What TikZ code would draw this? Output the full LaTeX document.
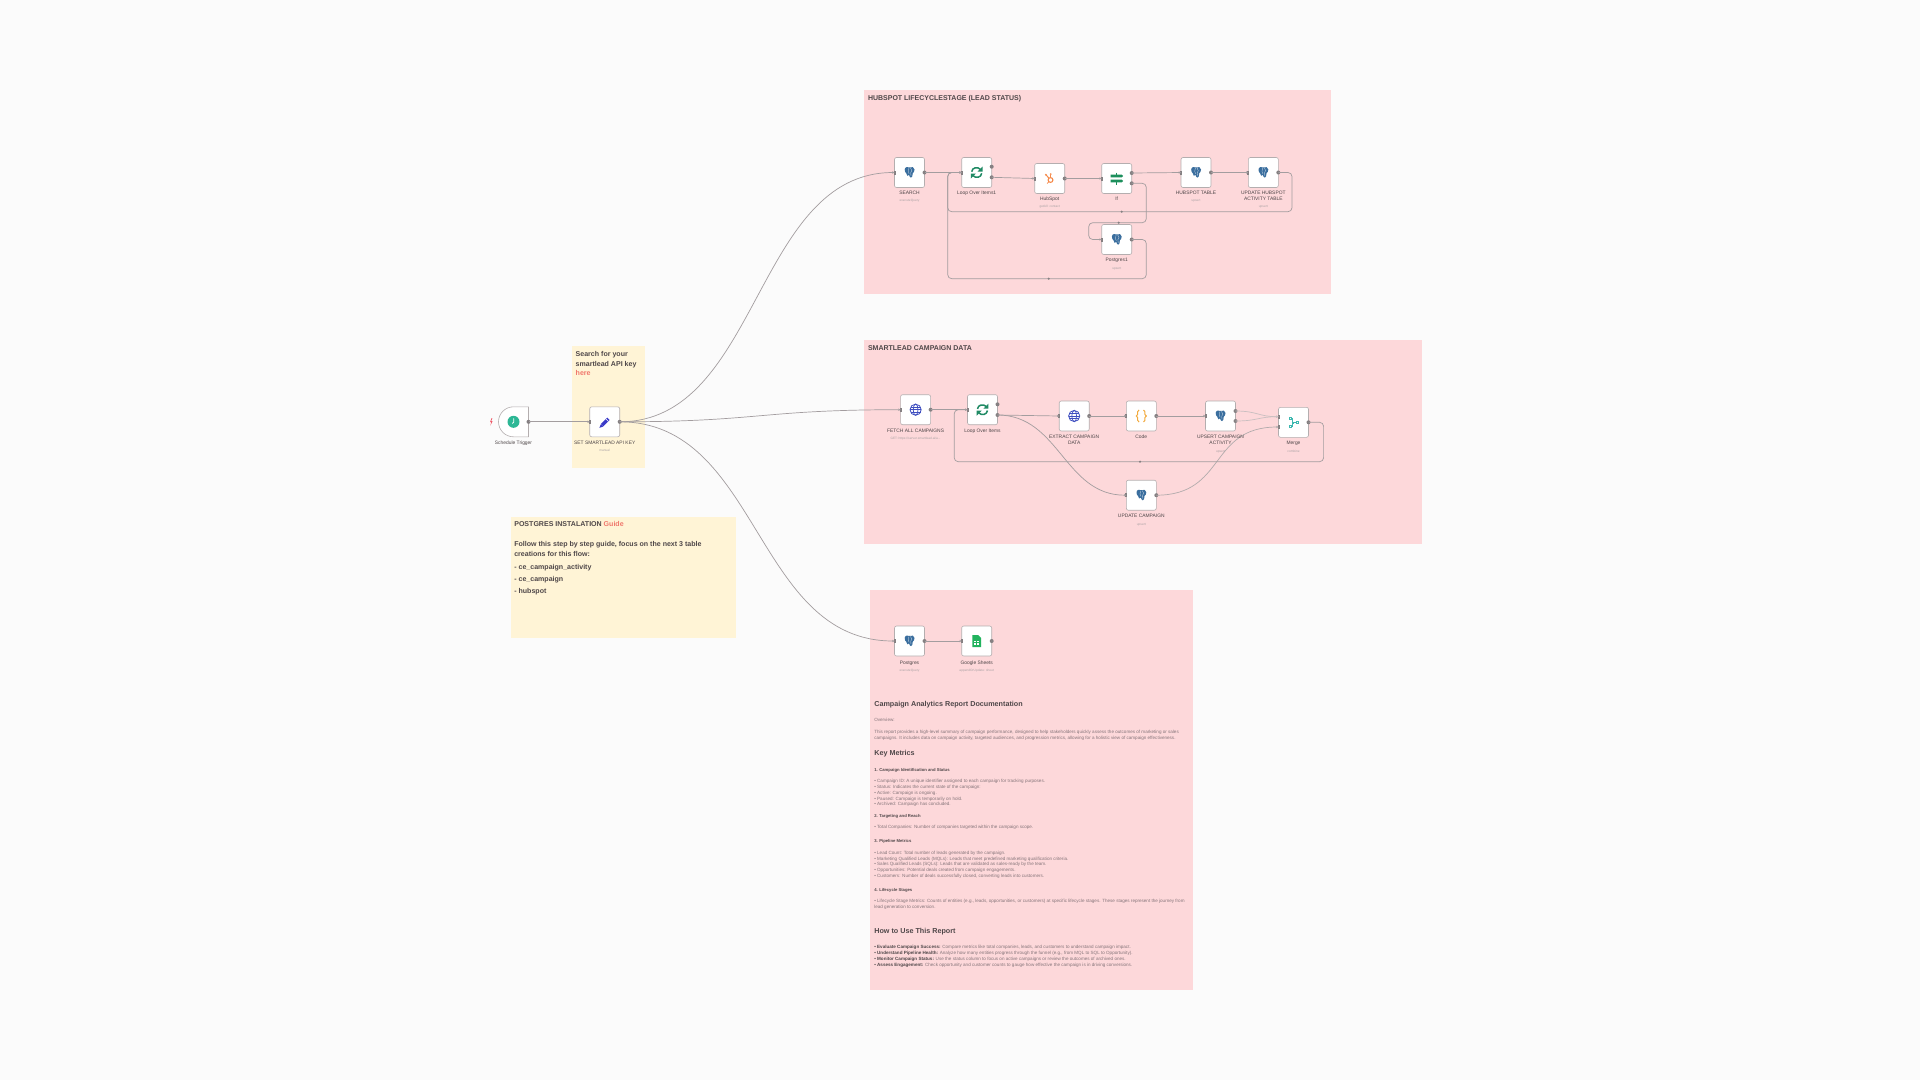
\documentclass[tikz,border=0pt]{standalone}
\usepackage{fontspec}
\setmainfont{Liberation Sans}
\usetikzlibrary{arrows.meta,shapes.misc}
\definecolor{bgc}{HTML}{FBFBFB}
\definecolor{pinkf}{HTML}{FDD8DA}
\definecolor{notef}{HTML}{FFF4D6}
\definecolor{wire}{HTML}{A39D9F}
\definecolor{wirelt}{HTML}{C9BFC0}
\definecolor{port}{HTML}{858082}
\definecolor{edgec}{HTML}{B4AEAF}
\definecolor{txt}{HTML}{4F4749}
\definecolor{subt}{HTML}{ABA3A5}
\definecolor{doct}{HTML}{85757A}
\definecolor{linkc}{HTML}{F0776C}
\definecolor{pgblue}{HTML}{3A6E9E}
\definecolor{syncg}{HTML}{1F8A64}
\definecolor{hsor}{HTML}{F58A4B}
\definecolor{ifg}{HTML}{1C8F5C}
\definecolor{globe}{HTML}{3F4FC0}
\definecolor{codeo}{HTML}{F2A93B}
\definecolor{teal2}{HTML}{3FB8B0}
\definecolor{penc}{HTML}{3A3AC8}
\definecolor{sheetg}{HTML}{22B35E}
\definecolor{clockg}{HTML}{2DB795}
\definecolor{boltr}{HTML}{EF5B6A}
\newcounter{lab}
\newcommand{\fs}[1]{\fontsize{#1}{#1}\selectfont}
\newcommand{\lab}[4][]{\stepcounter{lab}\node[txtlab,#1] (t\arabic{lab}) at (#2,#3) {#4};}
\newcommand{\nm}[3]{\lab[fs45]{#1}{#2}{#3}}
\newcommand{\sub}[3]{\lab[fssub]{#1}{#2}{#3}}
\newcommand{\lft}[4][]{\lab[anchor=west,#1]{#2}{#3}{#4}}
\newcommand{\wfbare}[4]{\node[wfbox] (#1) at (#2,#3) {}; \pic at (#1) {#4};}
\newcommand{\wf}[4]{\wfbare{#1}{#2}{#3}{#4}\inport{#1.west}\outport{#1.east}}
\newcommand{\wfmulti}[4]{\wfbare{#1}{#2}{#3}{#4}\inport{#1.west}}
\newcommand{\wfmerge}[4]{\wfbare{#1}{#2}{#3}{#4}\outport{#1.east}}
\newcommand{\inport}[1]{\fill[port] ([xshift=-1pt,yshift=-2pt]#1) rectangle ([xshift=1pt,yshift=2pt]#1);}
\newcommand{\outport}[1]{\fill[port] (#1) circle (2);}
\tikzset{
 txtlab/.style={inner sep=0,outer sep=0,text=txt,text height=0.72em,text depth=0.2em,anchor=center},
 fs45/.style={font=\fs{4.9}},
 fssub/.style={font=\fs{3.2},text=subt},
 title/.style={font=\bfseries\fs{7},text=txt},
 note/.style={font=\bfseries\fs{7.05},text=txt},
 doc/.style={font=\fs{4.57},text=doct,yshift=0.6pt},
 docb/.style={font=\bfseries\fs{4.2},text=txt,yshift=0.6pt},
 h2/.style={font=\bfseries\fs{7.2},text=txt},
 wfbox/.style={draw=edgec,line width=0.6,fill=white,rounded corners=2,minimum width=30,minimum height=30,inner sep=0,outer sep=0},
 conn/.style={draw=wire,line width=0.7,-{Stealth[length=2.4,width=2.4]}},
 loopc/.style={conn,rounded corners=4},
 frame/.style={fill=pinkf},
 nb/.style={fill=notef},
 pics/pgicon/.style={code={
  \fill[pgblue] (-4.8,-3) .. controls (-4.8,-5.8) and (-1,-6) .. (0,-5) .. controls (2,-6) and (5.2,-5.6) .. (5,-3) .. controls (4.9,-1) and (4.2,0) .. (3.2,0.8) .. controls (2.8,3) and (3,5.2) .. (1.5,5.2) .. controls (0,5.2) and (0,3) .. (-0.4,2.4) .. controls (-1.8,4.6) and (-2.8,3) .. (-3.2,0.8) .. controls (-4.2,0) and (-4.8,-1) .. cycle;
  \draw[white!70!pgblue,line width=0.35] (-0.6,-4.4) .. controls (-1.8,-2) and (-1.4,0) .. (-0.4,1.2);
  \draw[white!70!pgblue,line width=0.35] (1,-4.6) .. controls (3,-3.2) and (2.4,-0.6) .. (1.2,0.2) .. controls (1,1.6) and (1,2.4) .. (1.5,3.4);
 }},
 pics/syncicon/.style={code={
  \draw[syncg,line width=1.5] (-5,-0.8) .. controls (-4.6,-5) and (1,-6.2) .. (3.6,-3.2);
  \fill[syncg] (5.8,-6) -- (5.8,-1) -- (0.8,-1) -- cycle;
  \draw[syncg,line width=1.5] (5,0.8) .. controls (4.6,5) and (-1,6.2) .. (-3.6,3.2);
  \fill[syncg] (-5.8,6) -- (-5.8,1) -- (-0.8,1) -- cycle;
 }},
 pics/hsicon/.style={code={
  \draw[hsor,line width=1.1] (0.8,1.5) circle (2.4);
  \draw[hsor,line width=1] (-0.8,-0.3) -- (-3.6,-3.6);
  \fill[hsor] (-3.8,-3.8) circle (1);
  \draw[hsor,line width=1] (1,-0.9) -- (1,-3.6);
  \fill[hsor] (1,-4.3) circle (1);
  \draw[hsor,line width=0.8] (-0.8,3.2) -- (-2.6,5);
 }},
 pics/ificon/.style={code={
  \fill[ifg] (-6,-4) -- (5,-4) -- (6.4,-2.6) -- (5,-1.2) -- (-6,-1.2) -- cycle;
  \fill[ifg] (-6,1) -- (5,1) -- (6.4,2.4) -- (5,3.8) -- (-6,3.8) -- cycle;
  \draw[ifg,line width=1.4] (0,-6) -- (0,-4);
  \draw[ifg,line width=1.4] (0,3.8) -- (0,6);
 }},
 pics/globeicon/.style={code={
  \draw[globe,line width=0.8] (0,0) circle (5.6);
  \draw[globe,line width=0.7] (0,0) ellipse (2.4 and 5.6);
  \draw[globe,line width=0.7] (-5.6,0) -- (5.6,0);
  \draw[globe,line width=0.6] (-5,-2.6) -- (5,-2.6) (-5,2.6) -- (5,2.6);
 }},
 pics/codeicon/.style={code={
  \draw[codeo,line width=1] (-2.2,-6) .. controls (-4.4,-6) and (-3.4,-3) .. (-3.6,-1.6) .. controls (-3.7,-0.6) and (-4.4,0) .. (-5,0) .. controls (-4.4,0) and (-3.7,0.6) .. (-3.6,1.6) .. controls (-3.4,3) and (-4.4,6) .. (-2.2,6);
  \draw[codeo,line width=1] (2.2,-6) .. controls (4.4,-6) and (3.4,-3) .. (3.6,-1.6) .. controls (3.7,-0.6) and (4.4,0) .. (5,0) .. controls (4.4,0) and (3.7,0.6) .. (3.6,1.6) .. controls (3.4,3) and (4.4,6) .. (2.2,6);
 }},
 pics/mergeicon/.style={code={
  \draw[teal2,line width=0.5] (-4.6,-5) rectangle (-2.6,-3);
  \draw[teal2,line width=0.5] (-4.6,3) rectangle (-2.6,5);
  \draw[teal2,line width=0.5] (2.6,-1) rectangle (4.6,1);
  \draw[teal2,line width=0.45] (-2.6,-4) -- (-0.8,-4) -- (-0.8,-0.4) -- (0.4,-0.4) (-2.6,4) -- (-0.8,4) -- (-0.8,0.8) -- (0.4,0.8) (0.8,0) -- (2.6,0);
 }},
 pics/pencilicon/.style={code={
  \fill[penc] (-3.8,2.2) -- (2.6,-4.2) -- (5,-1.8) -- (-1.4,4.6) -- cycle;
  \fill[penc] (-3.8,2.4) -- (-1.6,4.8) -- (-5.4,6) -- cycle;
  \draw[white,line width=0.5] (1.2,-2.8) -- (3.6,-0.4);
 }},
 pics/sheeticon/.style={code={
  \fill[sheetg] (-4.4,-6) -- (1.4,-6) -- (4.4,-3) -- (4.4,6) -- (-4.4,6) -- cycle;
  \fill[white] (-2.4,-0.4) rectangle (2.4,3.8);
  \fill[sheetg] (-0.4,-0.4) rectangle (0.2,3.8);
  \fill[sheetg] (-2.4,1.4) rectangle (2.4,1.9);
 }},
 pics/clockicon/.style={code={
  \fill[clockg] (0,0) circle (6);
  \draw[white,line width=0.8,line cap=round] (0.2,-3.2) -- (0.2,0.4) -- (-1.2,1.6);
 }},
}
\begin{document}
\begin{tikzpicture}[x=1pt,y=-1pt]
\useasboundingbox (0,0) rectangle (1920,1080);
\fill[bgc] (0,0) rectangle (1920,1080);
% frames
\fill[frame] (864,90) rectangle (1331,294);
\fill[frame] (864,340) rectangle (1422,544);
\fill[frame] (869.5,590) rectangle (1193,990);
\fill[nb] (571.7,346) rectangle (645,467.7);
\fill[nb] (510.7,516.7) rectangle (736,638.3);
% titles and notes
\lft[title]{868}{97.5}{HUBSPOT LIFECYCLESTAGE (LEAD STATUS)}
\lft[title]{868}{347.5}{SMARTLEAD CAMPAIGN DATA}
\lft[note]{575.7}{353.7}{Search for your}
\lft[note]{575.7}{363.7}{smartlead API key}
\lft[note,text=linkc]{575.7}{373.3}{here}
\lft[note]{514.3}{524.3}{POSTGRES INSTALATION \textcolor{linkc}{Guide}}
\lft[note]{514.3}{544.3}{Follow this step by step guide, focus on the next 3 table}
\lft[note]{514.3}{554.3}{creations for this flow:}
\lft[note]{514.3}{566.7}{- ce\_campaign\_activity}
\lft[note]{514.3}{579.3}{- ce\_campaign}
\lft[note]{514.3}{591.3}{- hubspot}
% trigger
\node[wfbox,rounded rectangle,rounded rectangle right arc=none,rounded corners=0] (trig) at (513.5,421.8) {};
\pic at (trig) {clockicon};
\outport{trig.east}
\fill[boltr] (491.6,418) -- (490,422.2) -- (491.2,422.2) -- (490.4,425.6) -- (492.6,421) -- (491.3,421) -- (492.4,418) -- cycle;
% nodes
\wf{setkey}{604.7}{421.8}{pencilicon}
\wf{search}{909.5}{172.5}{pgicon}
\wfmulti{loopa}{976.7}{172.5}{syncicon}
\wf{hub}{1049.7}{178.5}{hsicon}
\wfmulti{ifn}{1116.7}{178.5}{ificon}
\wf{hubt}{1196}{172.5}{pgicon}
\wf{updh}{1263.3}{172.5}{pgicon}
\wf{pgone}{1116.7}{239.5}{pgicon}
\wf{fetch}{915.6}{409.7}{globeicon}
\wfmulti{loopb}{982.5}{409.7}{syncicon}
\wf{extr}{1074.2}{416}{globeicon}
\wf{code}{1141.3}{416}{codeicon}
\wfmulti{upsc}{1220.5}{416}{pgicon}
\wfmerge{merge}{1293.5}{422.3}{mergeicon}
\wf{updc}{1141.3}{495.2}{pgicon}
\wf{pgrep}{909.5}{641}{pgicon}
\wf{gs}{976.7}{641}{sheeticon}
% extra ports
\coordinate (loopa1) at (991.7,166.7); \coordinate (loopa2) at (991.7,177.3);
\coordinate (if1) at (1131.7,173); \coordinate (if2) at (1131.7,183.3);
\coordinate (loopb1) at (997.5,404.3); \coordinate (loopb2) at (997.5,415);
\coordinate (ups1) at (1235.5,411); \coordinate (ups2) at (1235.5,421);
\coordinate (mer1) at (1278.5,416.7); \coordinate (mer2) at (1278.5,427);
\foreach \c in {loopa1,loopa2,if1,if2,loopb1,loopb2,ups1,ups2}{\outport{\c}}
\foreach \c in {mer1,mer2}{\inport{\c}}
% main connectors
\draw[conn] (trig.east) -- (setkey.west);
\draw[conn] (setkey.east) .. controls +(140,0) and ([xshift=-140pt]search.west) .. (search.west);
\draw[conn] (setkey.east) .. controls +(140,0) and ([xshift=-140pt]fetch.west) .. (fetch.west);
\draw[conn] (setkey.east) .. controls +(140,0) and ([xshift=-140pt]pgrep.west) .. (pgrep.west);
\draw[conn] (search.east) -- (loopa.west);
\draw[conn] (loopa2) -- (hub.west);
\draw[conn] (hub.east) -- (ifn.west);
\draw[conn] (if1) -- (hubt.west);
\draw[conn] (hubt.east) -- (updh.west);
\draw[conn] (pgrep.east) -- (gs.west);
\draw[conn] (fetch.east) -- (loopb.west);
\draw[conn] (loopb2) -- (extr.west);
\draw[conn] (extr.east) -- (code.west);
\draw[conn] (code.east) -- (upsc.west);
\draw[conn] (loopb2) .. controls +(62,0) and ([xshift=-62pt]updc.west) .. (updc.west);
\draw[conn,draw=wire!60!wirelt] (updc.east) .. controls +(70,0) and ([xshift=-70pt]mer2) .. (mer2);
\draw[conn,draw=wirelt] (ups1) .. controls +(22,0) and ([xshift=-20pt]mer1) .. (mer1);
\draw[conn,draw=wirelt] (ups2) .. controls +(22,0) and ([xshift=-20pt]mer1) .. (mer1);
% loop-backs
\coordinate (u1) at (1292,172.5); \coordinate (u2) at (1292,211.7); \coordinate (u3) at (947.7,211.7); \coordinate (u4) at (947.7,172.5);
\draw[loopc] (updh.east) -- (u1) -- (u2) -- (u3) -- (u4) -- (loopa.west);
\coordinate (v1) at (1146.3,183.3); \coordinate (v2) at (1146.3,222.7); \coordinate (v3) at (1088.7,222.7); \coordinate (v4) at (1088.7,239.5);
\draw[loopc] (if2) -- (v1) -- (v2) -- (v3) -- (v4) -- (pgone.west);
\coordinate (w1) at (1146.3,239.5); \coordinate (w2) at (1146.3,278.7); \coordinate (w3) at (947.7,278.7); \coordinate (w4) at (947.7,172.5);
\draw[loopc] (pgone.east) -- (w1) -- (w2) -- (w3) -- (w4) -- (loopa.west);
\coordinate (x1) at (1323.6,422.3); \coordinate (x2) at (1323.6,461.7); \coordinate (x3) at (954.2,461.7); \coordinate (x4) at (954.2,409.7);
\draw[loopc] (merge.east) -- (x1) -- (x2) -- (x3) -- (x4) -- (loopb.west);
\coordinate (d1) at (1121.7,211.7); \coordinate (d2) at (1118.7,222.7); \coordinate (d3) at (1048.7,278.7); \coordinate (d4) at (1140,461.7);
\foreach \c in {d1,d2,d3,d4}{\fill[port] (\c) circle (1.2);}
% node labels
\nm{513.5}{442}{Schedule Trigger}
\nm{604.7}{442}{SET SMARTLEAD API KEY}
\sub{604.7}{449.3}{manual}
\nm{909.5}{192}{SEARCH}
\sub{909.5}{199.3}{executeQuery}
\nm{976.7}{192}{Loop Over Items1}
\nm{1049.7}{198}{HubSpot}
\sub{1049.7}{205.3}{getAll: contact}
\nm{1116.7}{198}{If}
\nm{1196}{192}{HUBSPOT TABLE}
\sub{1196}{199.3}{upsert}
\nm{1263.3}{192}{UPDATE HUBSPOT}
\nm{1263.3}{198}{ACTIVITY TABLE}
\sub{1263.3}{205.3}{upsert}
\nm{1116.7}{259.3}{Postgres1}
\sub{1116.7}{266.7}{upsert}
\nm{915.6}{430}{FETCH ALL CAMPAIGNS}
\sub{915.6}{436.7}{GET: https://server.smartlead.ai/a...}
\nm{982.5}{430}{Loop Over Items}
\nm{1074.2}{436}{EXTRACT CAMPAIGN}
\nm{1074.2}{442}{DATA}
\nm{1141.3}{436}{Code}
\nm{1220.5}{436}{UPSERT CAMPAIGN}
\nm{1220.5}{442}{ACTIVITY}
\sub{1220.5}{449.7}{upsert}
\nm{1293.5}{442}{Merge}
\sub{1293.5}{449.7}{combine}
\nm{1141.3}{515}{UPDATE CAMPAIGN}
\sub{1141.3}{522.7}{upsert}
\nm{909.5}{662}{Postgres}
\sub{909.5}{668.7}{executeQuery}
\nm{976.7}{662}{Google Sheets}
\sub{976.7}{668.7}{appendOrUpdate: sheet}
% documentation
\lft[h2]{874.3}{704.3}{Campaign Analytics Report Documentation}
\lft[doc]{874.3}{719.3}{Overview:}
\lft[doc]{874.3}{731.7}{This report provides a high-level summary of campaign performance, designed to help stakeholders quickly assess the outcomes of marketing or sales}
\lft[doc]{874.3}{737.7}{campaigns. It includes data on campaign activity, targeted audiences, and progression metrics, allowing for a holistic view of campaign effectiveness.}
\lft[h2]{874.3}{753.3}{Key Metrics}
\lft[docb]{874.3}{769.7}{1. Campaign Identification and Status}
\lft[doc]{874.3}{780.7}{• Campaign ID: A unique identifier assigned to each campaign for tracking purposes.}
\lft[doc]{874.3}{786.7}{• Status: Indicates the current state of the campaign:}
\lft[doc]{874.3}{792.3}{• Active: Campaign is ongoing.}
\lft[doc]{874.3}{798}{• Paused: Campaign is temporarily on hold.}
\lft[doc]{874.3}{803.7}{• Archived: Campaign has concluded.}
\lft[docb]{874.3}{815.7}{2. Targeting and Reach}
\lft[doc]{874.3}{826.7}{• Total Companies: Number of companies targeted within the campaign scope.}
\lft[docb]{874.3}{840.7}{3. Pipeline Metrics}
\lft[doc]{874.3}{852.3}{• Lead Count: Total number of leads generated by the campaign.}
\lft[doc]{874.3}{858.3}{• Marketing Qualified Leads (MQLs): Leads that meet predefined marketing qualification criteria.}
\lft[doc]{874.3}{863.7}{• Sales Qualified Leads (SQLs): Leads that are validated as sales-ready by the team.}
\lft[doc]{874.3}{869.7}{• Opportunities: Potential deals created from campaign engagements.}
\lft[doc]{874.3}{875.3}{• Customers: Number of deals successfully closed, converting leads into customers.}
\lft[docb]{874.3}{889.7}{4. Lifecycle Stages}
\lft[doc]{874.3}{900.7}{• Lifecycle Stage Metrics: Counts of entities (e.g., leads, opportunities, or customers) at specific lifecycle stages. These stages represent the journey from}
\lft[doc]{874.3}{906.7}{lead generation to conversion.}
\lft[h2]{874.3}{930.7}{How to Use This Report}
\lft[doc]{874.3}{946.7}{\textcolor{txt}{\bfseries • Evaluate Campaign Success:} Compare metrics like total companies, leads, and customers to understand campaign impact.}
\lft[doc]{874.3}{952.3}{\textcolor{txt}{\bfseries • Understand Pipeline Health:} Analyze how many entities progress through the funnel (e.g., from MQL to SQL to Opportunity).}
\lft[doc]{874.3}{958.3}{\textcolor{txt}{\bfseries • Monitor Campaign Status:} Use the status column to focus on active campaigns or review the outcomes of archived ones.}
\lft[doc]{874.3}{964.3}{\textcolor{txt}{\bfseries • Assess Engagement:} Check opportunity and customer counts to gauge how effective the campaign is in driving conversions.}
\end{tikzpicture}
\end{document}
